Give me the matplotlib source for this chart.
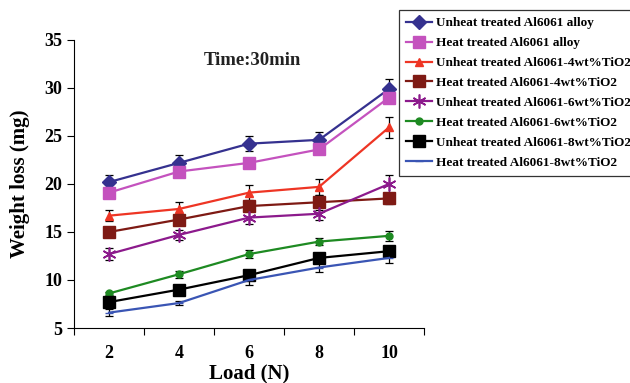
import matplotlib
matplotlib.use("Agg")
import matplotlib.pyplot as plt
import numpy as np

plt.rcParams['font.family'] = ['Liberation Serif', 'DejaVu Serif']
plt.rcParams['font.weight'] = 'bold'

loads = ["2", "4", "6", "8", "10"]

labels = [
    "Unheat treated Al6061 alloy",
    "Heat treated Al6061 alloy",
    "Unheat treated Al6061-4wt%TiO2",
    "Heat treated Al6061-4wt%TiO2",
    "Unheat treated Al6061-6wt%TiO2",
    "Heat treated Al6061-6wt%TiO2",
    "Unheat treated Al6061-8wt%TiO2",
    "Heat treated Al6061-8wt%TiO2",
]

unheat_alloy = [20.2, 22.2, 24.2, 24.6, 29.9]
heat_alloy = [19.1, 21.3, 22.2, 23.6, 29.0]
unheat_4 = [16.7, 17.4, 19.1, 19.7, 25.9]
heat_4 = [15.0, 16.3, 17.7, 18.1, 18.5]
unheat_6 = [12.7, 14.7, 16.5, 16.9, 20.0]
heat_6 = [8.6, 10.6, 12.7, 14.0, 14.6]
unheat_8 = [7.7, 9.0, 10.5, 12.3, 13.0]
heat_8 = [6.6, 7.6, 10.0, 11.3, 12.3]

err_unheat_alloy = [0.7, 0.8, 0.8, 0.8, 1.0]
err_heat_alloy = [0.3, 0.3, 0.3, 0.3, 0.6]
err_unheat_4 = [0.6, 0.75, 0.8, 0.8, 1.1]
err_heat_4 = [0.4, 0.5, 0.5, 0.8, 0.6]
err_unheat_6 = [0.6, 0.55, 0.65, 0.7, 0.9]
err_heat_6 = [0.2, 0.35, 0.4, 0.4, 0.5]
err_unheat_8 = [0.3, 0.3, 0.4, 0.5, 0.4]
err_heat_8 = [0.4, 0.25, 0.5, 0.45, 0.5]

series = [unheat_alloy, heat_alloy, unheat_4, heat_4, unheat_6, heat_6, unheat_8, heat_8]
errors = [err_unheat_alloy, err_heat_alloy, err_unheat_4, err_heat_4,
          err_unheat_6, err_heat_6, err_unheat_8, err_heat_8]
colors = ['#35318F', '#C452BE', '#EE3524', '#7E1A14', '#8C1A8C', '#1E8A22', '#000000', '#3A55B4']
markers = ['D', 's', '^', 's', (6, 2, 0), 'o', 's', '_']
msizes = [7, 8, 6, 9, 10, 5, 9, 6]

fig = plt.figure(figsize=(6.3, 3.83), dpi=100)
ax = fig.add_axes([0.1175, 0.1436, 0.5556, 0.752])

x = np.arange(1, len(loads) + 1)
handles = []
for ys, es, c, m, ms, lab in zip(series, errors, colors, markers, msizes, labels):
    ax.errorbar(x, ys, yerr=es, fmt='none', ecolor='black', elinewidth=0.9,
                capsize=3, capthick=0.9, zorder=2)
    h, = ax.plot(x, ys, color=c, marker=m, markersize=ms, linewidth=1.6,
                 markeredgecolor=c, markerfacecolor=c, label=lab, zorder=3,
                 markeredgewidth=1.2 if m == (6, 2, 0) else 1.0)
    handles.append(h)

ax.set_xlim(0.5, len(loads) + 0.5)
ax.set_ylim(5, 35)
ax.set_yticks(np.arange(5, 36, 5))
ax.set_xticks(x)
ax.set_xticklabels(loads)
ax.set_xticks(np.arange(0.5, len(loads) + 1, 1), minor=True)
ax.tick_params(axis='x', which='major', length=0, pad=12, labelsize=13)
ax.tick_params(axis='x', which='minor', length=5, direction='out', width=0.8)
ax.tick_params(axis='y', which='major', length=5, direction='out', width=0.8, labelsize=13)
for lbl in ax.get_xticklabels() + ax.get_yticklabels():
    lbl.set_fontweight('bold')

ax.spines['top'].set_visible(False)
ax.spines['right'].set_visible(False)
ax.spines['left'].set_linewidth(0.8)
ax.spines['bottom'].set_linewidth(0.8)

ax.set_xlabel("Load (N)", fontsize=15, fontweight='bold', labelpad=1)
ax.set_ylabel("Weight loss (mg)", fontsize=15, fontweight='bold', labelpad=10)

ax.text(0.51, 0.93, "Time:30min", transform=ax.transAxes, ha='center', va='center',
        fontsize=13.5, fontweight='bold', color='#222222')

leg = fig.legend(handles=handles, loc='upper left', bbox_to_anchor=(0.633, 0.974),
                 frameon=True, fancybox=False, edgecolor='black', borderaxespad=0,
                 handlelength=2.0, labelspacing=0.58, borderpad=0.55, handletextpad=0.3,
                 prop={'weight': 'bold', 'size': 9.5})
leg.get_frame().set_linewidth(0.9)

fig.savefig("out.png", dpi=100)
